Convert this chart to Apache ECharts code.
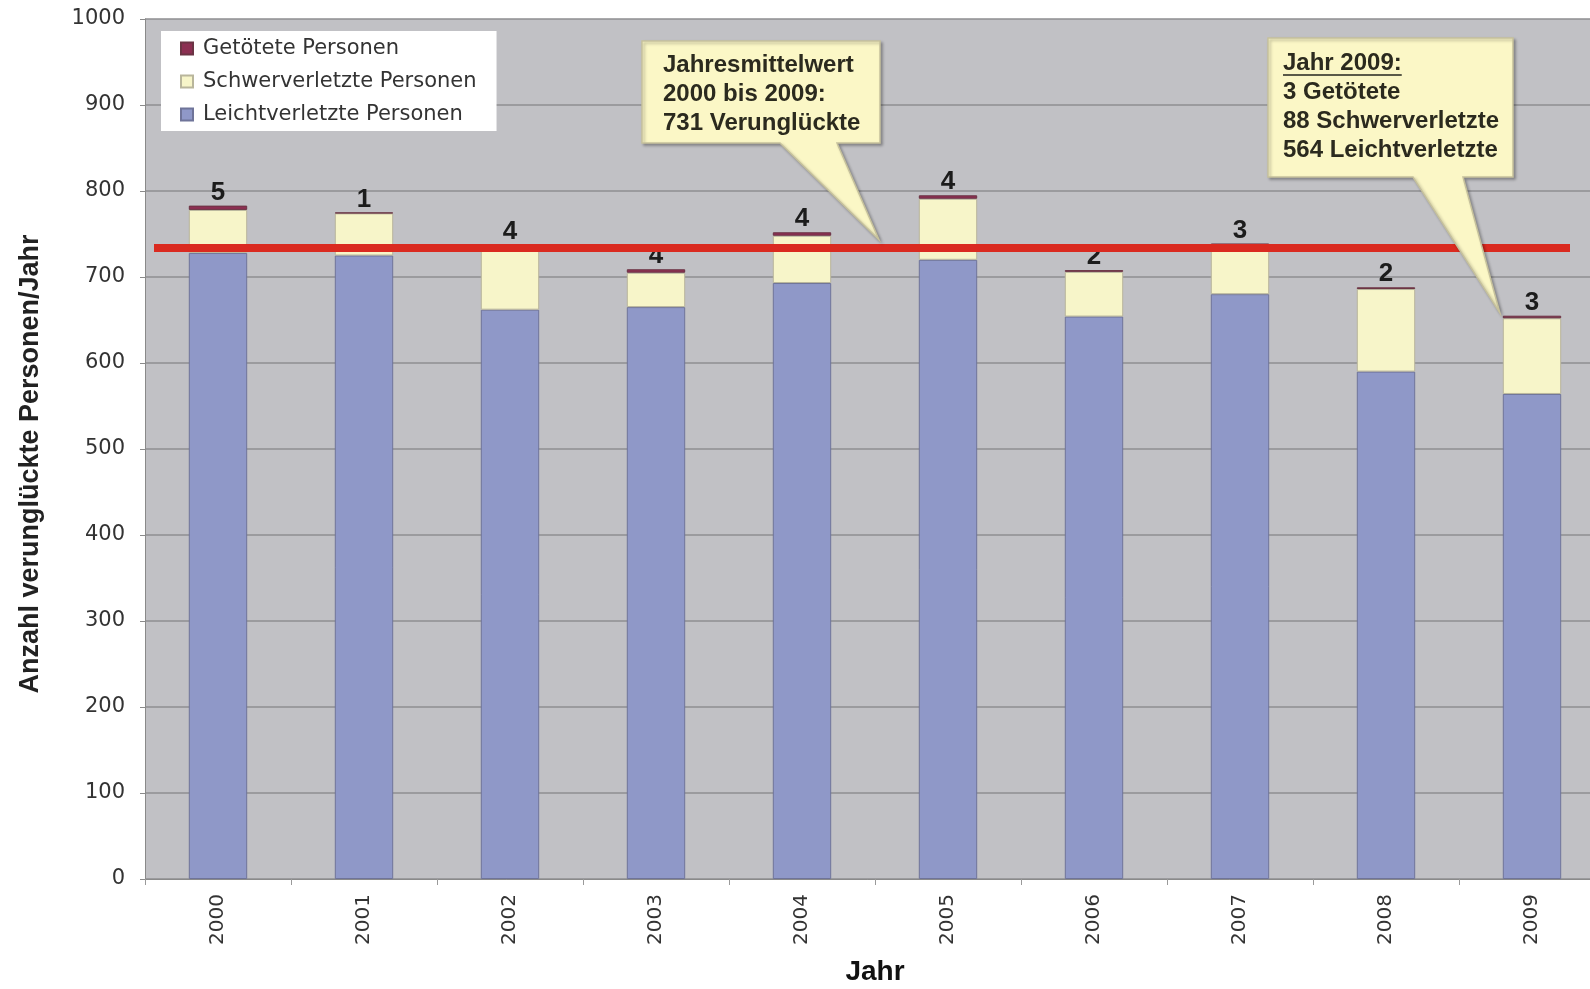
<!DOCTYPE html>
<html><head><meta charset="utf-8">
<script src="https://cdn.jsdelivr.net/npm/echarts@6/dist/echarts.min.js"></script>
<style>html,body{margin:0;padding:0;background:#fff}#c{width:1590px;height:989px}</style>
</head><body><div id="c"></div>
<script>
// ---- data ----
const years = ['2000','2001','2002','2003','2004','2005','2006','2007','2008','2009'];
const leichtverletzte = [728, 725, 662, 665, 693, 720, 654, 680, 590, 564];
const schwerverletzte = [50, 49, 71, 40, 55, 71, 52, 56, 96, 88];
const getoetete = [5, 1, 4, 4, 4, 4, 2, 3, 2, 3];
const meanLineValue = 734;
const yMin = 0, yMax = 1000, yStep = 100;
const seriesNames = ['Getötete Personen', 'Schwerverletzte Personen', 'Leichtverletzte Personen'];
const calloutMeanLines = ['Jahresmittelwert', '2000 bis 2009:', '731 Verunglückte'];
const callout2009Title = 'Jahr 2009:';
const callout2009Lines = ['3 Getötete', '88 Schwerverletzte', '564 Leichtverletzte'];
const yAxisTitle = 'Anzahl verunglückte Personen/Jahr';
const xAxisTitle = 'Jahr';

const chart = echarts.init(document.getElementById('c'), null, {renderer: 'canvas'});
const tickFont = 'DejaVu Sans';
const boldFont = 'Liberation Sans, Arial, sans-serif';

const option = {
  backgroundColor: '#ffffff',
  animation: false,
  grid: {left: 145, width: 1460, top: 19, bottom: 110, outerBoundsMode: 'none', containLabel: false,
    show: true, backgroundColor: '#c1c1c5', borderWidth: 0},
  legend: {
    orient: 'vertical', left: 161, top: 31,
    backgroundColor: '#ffffff', padding: [7, 20, 6, 19],
    itemWidth: 12, itemHeight: 12, itemGap: 12, icon: 'rect',
    data: seriesNames,
    textStyle: {fontFamily: tickFont, fontSize: 21, color: '#333', lineHeight: 20, padding: [0, 0, 0, 5]}
  },
  xAxis: {
    type: 'category', data: years,
    name: xAxisTitle, nameLocation: 'middle', nameGap: 79,
    nameTextStyle: {fontFamily: boldFont, fontSize: 28, fontWeight: 'bold', color: '#111'},
    axisLine: {lineStyle: {color: '#8a8a8a', width: 1}},
    axisTick: {show: true, length: 6, lineStyle: {color: '#9a9a9a'}},
    axisLabel: {rotate: 90, margin: 15, fontFamily: tickFont, fontSize: 20, color: '#333'}
  },
  yAxis: {
    type: 'value', min: yMin, max: yMax, interval: yStep,
    name: yAxisTitle, nameLocation: 'middle', nameGap: 101,
    nameTextStyle: {fontFamily: boldFont, fontSize: 27, fontWeight: 'bold', color: '#222', padding: [0, 30, 0, 0]},
    axisLine: {show: true, lineStyle: {color: '#8a8a8a', width: 1}},
    axisTick: {show: true, length: 5, lineStyle: {color: '#8a8a8a'}},
    axisLabel: {margin: 20, fontFamily: tickFont, fontSize: 21, color: '#333', formatter: v => String(v)},
    splitLine: {show: true, lineStyle: {color: '#8e8e90', width: 1.5}}
  },
  series: [
    {
      name: 'Leichtverletzte Personen', type: 'bar', stack: 'total', barWidth: '40%',
      data: leichtverletzte,
      itemStyle: {color: '#8f98c8', borderColor: '#6f7499', borderWidth: 1},
      markLine: {
        silent: true, symbol: 'none', z: 5,
        label: {show: false},
        lineStyle: {color: '#da2a20', width: 8, type: 'solid'},
        data: [[{coord: [-Infinity, meanLineValue], x: 154}, {coord: [Infinity, meanLineValue], x: 1570}]]
      }
    },
    {
      name: 'Schwerverletzte Personen', type: 'bar', stack: 'total', barWidth: '40%',
      data: schwerverletzte,
      itemStyle: {color: '#f7f5c9', borderColor: '#b9b69c', borderWidth: 1}
    },
    {
      name: 'Getötete Personen', type: 'bar', stack: 'total', barWidth: '40%',
      data: getoetete,
      itemStyle: {color: '#8c2f52', borderColor: '#6b3444', borderWidth: 1},
      label: {show: true, position: 'top', distance: 0, formatter: '{c}',
        fontFamily: boldFont, fontSize: 26, fontWeight: 'bold', color: '#1c1c1c'}
    }
  ]
};
chart.setOption(option);

// ---- callouts, positioned from the chart's own scales ----
const px = (cat, v) => chart.convertToPixel({gridIndex: 0}, [cat, v]);
const band = px(years[1], 0)[0] - px(years[0], 0)[0];
const meanY = chart.convertToPixel({yAxisIndex: 0}, meanLineValue);
const tip1 = [px(years[4], 0)[0] + band / 2 + 4, meanY - 8];
const last = years.length - 1;
const total2009 = leichtverletzte[last] + schwerverletzte[last] + getoetete[last];
const p2009 = px(years[last], total2009);
const tip2 = [p2009[0] - band * 0.2 - 3, p2009[1] - 3];

const ctx = document.createElement('canvas').getContext('2d');
ctx.font = 'bold 24px Liberation Sans';
const titleW = ctx.measureText(callout2009Title).width;

const calloutStyle = {fill: '#fbf7c6', stroke: '#c6c19c', lineWidth: 1.5,
  shadowColor: 'rgba(0,0,0,0.28)', shadowBlur: 3, shadowOffsetX: 2, shadowOffsetY: 2};
const textStyleBase = {font: 'bold 24px Liberation Sans', fill: '#2b2a1e', lineHeight: 29};

chart.setOption({
  graphic: [
    {type: 'polygon', z: 100, shape: {points: [[642, 41], [880, 41], [880, 143], [837, 143], tip1, [780, 143], [642, 143]]}, style: calloutStyle},
    {type: 'text', z: 101, x: 663, y: 50.5, style: Object.assign({text: calloutMeanLines.join('\n')}, textStyleBase)},
    {type: 'polygon', z: 100, shape: {points: [[1268, 38], [1513, 38], [1513, 177], [1463, 177], tip2, [1413, 177], [1268, 177]]}, style: calloutStyle},
    {type: 'text', z: 101, x: 1283, y: 48.5, style: Object.assign({text: [callout2009Title].concat(callout2009Lines).join('\n')}, textStyleBase)},
    {type: 'line', z: 101, shape: {x1: 1283, y1: 75, x2: 1283 + titleW, y2: 75}, style: {stroke: '#5a5a48', lineWidth: 2}}
  ]
});
</script></body></html>
